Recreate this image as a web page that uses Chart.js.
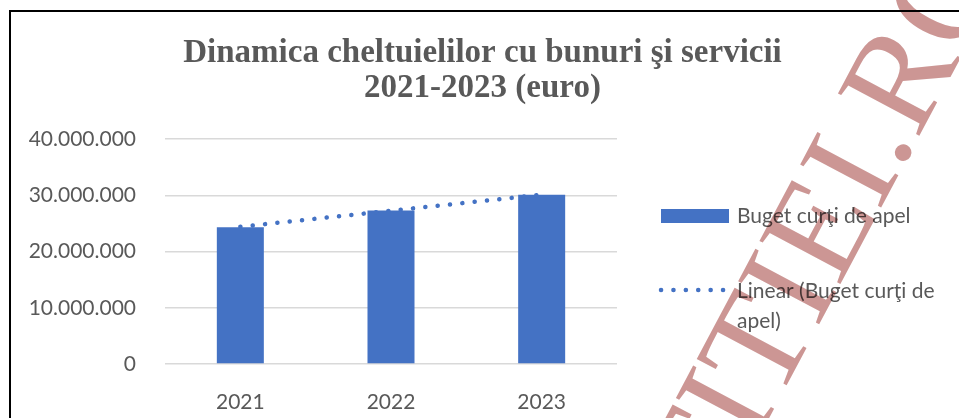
<!DOCTYPE html>
<html>
<head>
<meta charset="utf-8">
<script src="https://cdn.jsdelivr.net/npm/chart.js"></script>
<style>
  html, body { margin: 0; padding: 0; background: #fff; }
</style>
</head>
<body>
<canvas id="myChart" width="959" height="418"></canvas>
<script>
const years = ['2021', '2022', '2023'];
const budget = [24300000, 27300000, 30100000];
const trend = [24400000, 27250000, 30100000];
const yTicks = [0, 10000000, 20000000, 30000000, 40000000];
const titleLines = ['Dinamica cheltuielilor cu bunuri şi servicii', '2021-2023 (euro)'];
const barLabel = 'Buget curţi de apel';
const trendLabel = 'Linear (Buget curţi de apel)';
const watermarkText = 'LUMEAJUSTITIEI.RO';

const blue = '#4472c4';
const grey = '#595959';
const labelFont = '21px Lato';
const dots = [0.1, 12.3];

// 40000000 -> "40.000.000"
const formatNum = (v) => String(v).replace(/\B(?=(\d{3})+(?!\d))/g, '.');

const wrapText = (ctx, text, maxWidth) => {
    const words = text.split(' ');
    const lines = [];
    let line = '';
    words.forEach(w => {
        const test = line ? line + ' ' + w : w;
        if (line && ctx.measureText(test).width > maxWidth) {
            lines.push(line);
            line = w;
        } else {
            line = test;
        }
    });
    lines.push(line);
    return lines;
}

const decor = {
    id: 'decor',
    beforeDraw(chart) {
        const ctx = chart.ctx;
        ctx.save();
        ctx.fillStyle = '#fff';
        ctx.fillRect(0, 0, chart.width, chart.height);
        // frame
        ctx.strokeStyle = '#000';
        ctx.lineWidth = 2;
        ctx.beginPath();
        ctx.moveTo(10, chart.height);
        ctx.lineTo(10, 11);
        ctx.lineTo(chart.width, 11);
        ctx.stroke();
        ctx.restore();
    },
    afterDraw(chart) {
        const ctx = chart.ctx;
        ctx.save();

        // title
        ctx.fillStyle = grey;
        ctx.font = 'bold 33px "Liberation Serif"';
        ctx.textAlign = 'center';
        ctx.textBaseline = 'alphabetic';
        titleLines.forEach((t, i) => ctx.fillText(t, 482.5, 62 + i * 35));

        // legend
        const sets = chart.data.datasets;
        ctx.font = labelFont;
        ctx.textAlign = 'left';
        ctx.fillStyle = sets[0].backgroundColor;
        ctx.fillRect(661, 209, 68, 14);
        ctx.fillStyle = grey;
        ctx.fillText(sets[0].label, 737, 223);

        ctx.strokeStyle = sets[1].borderColor;
        ctx.lineWidth = sets[1].borderWidth;
        ctx.lineCap = 'round';
        ctx.setLineDash(sets[1].borderDash);
        ctx.beginPath();
        ctx.moveTo(661, 290);
        ctx.lineTo(724, 290);
        ctx.stroke();
        ctx.setLineDash([]);
        wrapText(ctx, sets[1].label, 215).forEach((t, i) => ctx.fillText(t, 737, 297.5 + i * 30));

        // watermark, rotated up to the right, tinted over whatever is below
        ctx.globalCompositeOperation = 'multiply';
        ctx.fillStyle = 'rgb(204,150,148)';
        ctx.font = '140px "Liberation Serif"';
        ctx.translate(917, 140);
        ctx.rotate(-62 * Math.PI / 180);
        const head = watermarkText.slice(0, watermarkText.indexOf('.') + 1);
        ctx.fillText(watermarkText, -ctx.measureText(head).width, 0);

        ctx.restore();
    }
}

const myChart = new Chart(document.getElementById('myChart'), {
    type: 'bar',
    data: {
        labels: years,
        datasets: [{
            type: 'bar',
            label: barLabel,
            data: budget,
            backgroundColor: blue,
            barPercentage: 0.312,
            categoryPercentage: 1,
            order: 2
        }, {
            type: 'line',
            label: trendLabel,
            data: trend,
            borderColor: blue,
            borderWidth: 4.5,
            borderDash: dots,
            borderCapStyle: 'round',
            pointRadius: 0,
            fill: false,
            tension: 0,
            order: 1
        }]
    },
    options: {
        responsive: false,
        animation: false,
        layout: { padding: { left: 10, right: 342, top: 139, bottom: 0 } },
        plugins: {
            legend: { display: false },
            title: { display: false },
            tooltip: { enabled: false }
        },
        scales: {
            x: {
                grid: { display: false },
                border: { display: false },
                ticks: { color: grey, font: { family: 'Lato', size: 21 }, padding: 18 },
                afterFit: (scale) => { scale.height = 54 }
            },
            y: {
                min: yTicks[0],
                max: yTicks[yTicks.length - 1],
                ticks: {
                    stepSize: yTicks[1] - yTicks[0],
                    color: grey,
                    font: { family: 'Lato', size: 21 },
                    padding: 29,
                    callback: (v) => formatNum(v)
                },
                grid: { color: '#d9d9d9', lineWidth: 1.5, drawTicks: false },
                border: { display: false },
                afterFit: (scale) => { scale.width = 155 }
            }
        }
    },
    plugins: [decor]
})
</script>
</body>
</html>
